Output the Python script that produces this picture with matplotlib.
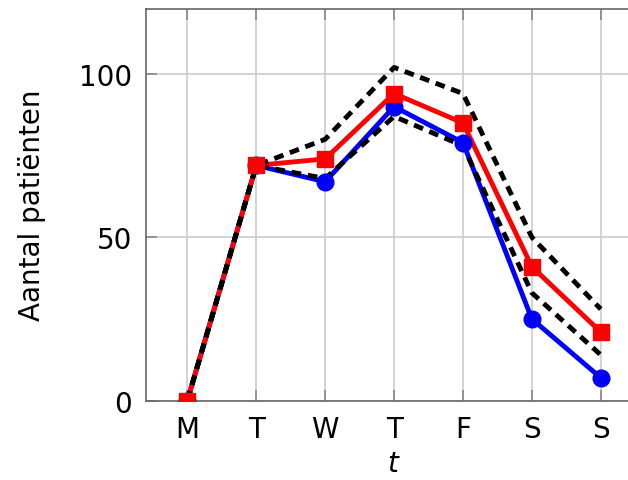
import matplotlib
matplotlib.use("Agg")
import matplotlib.pyplot as plt

days = ["M", "T", "W", "T", "F", "S", "S"]
blue_vals = [0, 72, 67, 90, 79, 25, 7]
red_vals = [0, 72, 74, 94, 85, 41, 21]
upper_vals = [0, 72, 80, 102, 94, 50, 28]
lower_vals = [0, 72, 68, 87, 78, 33, 14]

plt.rcParams['font.family'] = ['DejaVu Sans']
plt.rcParams['font.size'] = 20

fig = plt.figure(figsize=(6.28, 4.81), dpi=100)
ax = fig.add_axes([0.2325, 0.165, 0.79, 0.815])

x = list(range(len(days)))

# lines first, markers on top (pgfplots style)
ax.plot(x, blue_vals, color='blue', lw=3.5, zorder=3)
ax.plot(x, red_vals, color='red', lw=3.5, zorder=3)
ax.plot(x, upper_vals, color='black', lw=3.5, ls=(0, (2, 1.4)), zorder=4)
ax.plot(x, lower_vals, color='black', lw=3.5, ls=(0, (2, 1.4)), zorder=4)
ax.plot(x, blue_vals, ls='none', marker='o', ms=12, color='blue', zorder=5)
ax.plot(x, red_vals, ls='none', marker='s', ms=12, color='red', zorder=6)

ax.set_xlim(-0.6, 6.6)
ax.set_ylim(0, 120)
ax.set_xticks(x)
ax.set_xticklabels(days)
ax.set_yticks([0, 50, 100])

ax.grid(True, color='#cccccc', lw=1.2)
ax.set_axisbelow(True)
ax.tick_params(direction='in', length=8, width=1.2, color='#888888',
               top=True, right=True, pad=10)
for s in ax.spines.values():
    s.set_color('#666666')
    s.set_linewidth(1.2)

ax.set_xlabel('$t$', labelpad=5)
ax.set_ylabel('Aantal patiënten', labelpad=24)

fig.savefig('out.png', dpi=100)
